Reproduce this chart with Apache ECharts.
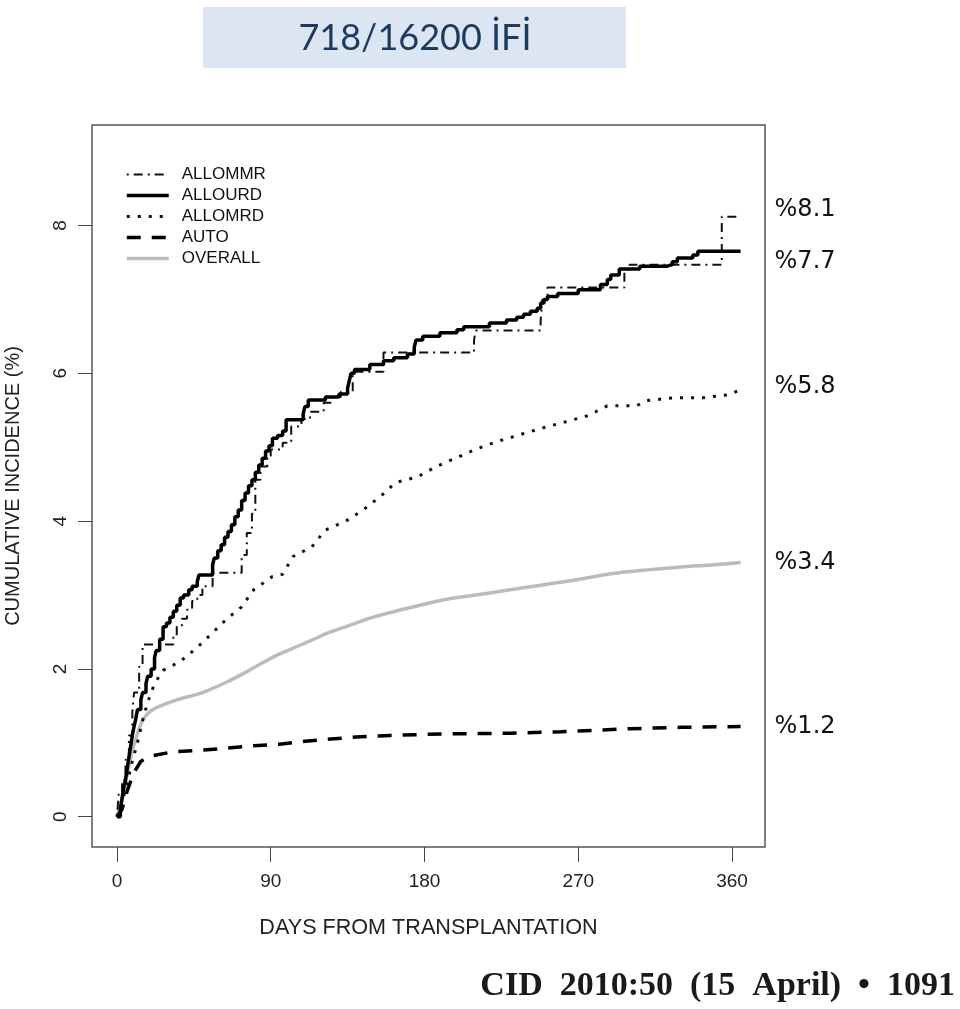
<!DOCTYPE html>
<html>
<head>
<meta charset="utf-8">
<script src="https://cdn.jsdelivr.net/npm/echarts@6/dist/echarts.min.js"></script>
<style>
html,body{margin:0;padding:0;background:#fff;}
#chart{width:960px;height:1009px;}
</style>
</head>
<body>
<div id="chart"></div>
<script>
// ---- data (day, cumulative incidence %) ----
const seriesNames = ['ALLOMMR', 'ALLOURD', 'ALLOMRD', 'AUTO', 'OVERALL'];
const endLabels = ['%8.1', '%7.7', '%5.8', '%3.4', '%1.2'];
const xTicks = [0, 90, 180, 270, 360];
const yTicks = [0, 2, 4, 6, 8];

const allommr = [[0,0],[1,0.3],[3,0.5],[5,0.77],[7,1.1],[9,1.41],[10,1.68],[13,2.03],[15,2.33],[33,2.45],[35,2.57],[38,2.68],[41,2.8],[44,2.92],[47,3.0],[50,3.12],[56,3.3],[73,3.54],[76,3.84],[79,4.1],[81,4.56],[84,4.74],[88,4.88],[90,4.97],[97,5.06],[102,5.28],[108,5.38],[113,5.48],[121,5.6],[126,5.68],[131,5.75],[138,6.02],[156,6.28],[209,6.45],[210,6.58],[248,6.72],[249,7.0],[252,7.16],[297,7.4],[300,7.47],[354,8.12],[365,8.12]];

const allourd = [[0,0],[2,0.1],[3,0.25],[4,0.4],[5,0.5],[6,0.65],[7,0.8],[8,0.95],[9,1.1],[10,1.22],[11,1.32],[12,1.45],[14,1.58],[15,1.68],[17,1.8],[18,1.9],[20,2.0],[22,2.15],[23,2.25],[25,2.4],[27,2.57],[29,2.62],[31,2.7],[33,2.78],[35,2.86],[37,2.96],[39,3.0],[42,3.07],[44,3.12],[47,3.18],[48,3.27],[56,3.41],[57,3.5],[59,3.6],[61,3.68],[63,3.78],[65,3.86],[67,3.95],[69,4.06],[71,4.15],[73,4.28],[75,4.38],[77,4.48],[79,4.56],[81,4.66],[83,4.76],[85,4.85],[87,4.95],[89,5.02],[91,5.12],[94,5.16],[97,5.22],[99,5.37],[109,5.45],[110,5.55],[112,5.64],[122,5.68],[130,5.72],[135,5.8],[136,5.9],[137,6.0],[139,6.05],[148,6.12],[156,6.17],[162,6.21],[170,6.26],[174,6.35],[175,6.45],[179,6.5],[189,6.55],[199,6.59],[203,6.63],[218,6.68],[228,6.72],[234,6.76],[238,6.8],[242,6.84],[246,6.88],[248,6.95],[250,7.0],[252,7.04],[258,7.08],[270,7.13],[283,7.2],[287,7.27],[289,7.33],[294,7.41],[306,7.45],[322,7.47],[325,7.51],[328,7.56],[337,7.6],[340,7.65],[365,7.65]];

const allomrd = [[0,0],[3,0.2],[6,0.45],[9,0.75],[12,1.0],[15,1.3],[18,1.55],[22,1.8],[27,1.98],[37,2.1],[47,2.29],[56,2.49],[64,2.67],[73,2.84],[80,3.07],[91,3.25],[97,3.28],[103,3.52],[114,3.65],[122,3.88],[134,4.0],[144,4.15],[154,4.33],[163,4.52],[176,4.6],[187,4.74],[199,4.86],[211,4.98],[223,5.08],[236,5.17],[249,5.26],[262,5.34],[276,5.43],[287,5.56],[304,5.56],[310,5.63],[326,5.67],[343,5.67],[358,5.71],[365,5.78]];

const auto = [[0,0],[3,0.1],[6,0.35],[10,0.6],[14,0.75],[20,0.82],[33,0.88],[50,0.9],[65,0.93],[80,0.96],[95,0.98],[110,1.02],[125,1.05],[140,1.08],[160,1.1],[190,1.12],[230,1.13],[260,1.15],[280,1.17],[300,1.19],[330,1.21],[365,1.22]];

const overall = [[0,0],[2,0.15],[5,0.45],[8,0.8],[11,1.05],[15,1.3],[21,1.45],[35,1.58],[50,1.68],[65,1.83],[75,1.95],[85,2.08],[95,2.2],[105,2.3],[115,2.4],[125,2.5],[135,2.58],[150,2.7],[170,2.82],[190,2.93],[210,3.0],[230,3.07],[250,3.14],[270,3.21],[290,3.29],[310,3.34],[330,3.38],[350,3.41],[365,3.44]];

const AX_FONT = "'Liberation Sans', Arial, sans-serif";
const chart = echarts.init(document.getElementById('chart'), null, {renderer: 'canvas'});

function endLabel(text, dy) {
  return {
    show: true,
    formatter: text,
    distance: 34,
    offset: [0, dy],
    fontFamily: "'DejaVu Sans', Verdana, sans-serif",
    fontSize: 24,
    color: '#111'
  };
}

const option = {
  backgroundColor: '#fff',
  animation: false,
  graphic: [
    {type: 'rect', shape: {x: 203, y: 7, width: 423, height: 61}, style: {fill: '#dce6f2'}, silent: true},
    {type: 'text', x: 415, y: 38, style: {text: '718/16200 İFİ', font: "36px Lato, 'Open Sans', sans-serif", fill: '#1b3a5e', textAlign: 'center', textVerticalAlign: 'middle'}},
    {type: 'text', x: 955, y: 986, style: {text: 'CID  2010:50  (15  April)  •  1091', font: "bold 34px 'Liberation Serif', 'Times New Roman', serif", fill: '#1a1a1a', textAlign: 'right', textVerticalAlign: 'middle'}}
  ],
  grid: {left: 92, right: 195, top: 125, bottom: 162, outerBoundsMode: 'none', containLabel: false,
         show: true, borderColor: '#555', borderWidth: 1.5, backgroundColor: 'transparent'},
  legend: {
    orient: 'vertical', left: 125, top: 166, padding: 0,
    itemWidth: 42, itemHeight: 14, itemGap: 4,
    data: seriesNames,
    itemStyle: {opacity: 0},
    lineStyle: {width: 'inherit'},
    textStyle: {fontFamily: AX_FONT, fontSize: 17, color: '#111', padding: [0, 0, 0, 8]}
  },
  xAxis: {
    type: 'value', min: -14.6, max: 379.3,
    splitLine: {show: false},
    axisLine: {show: false, onZero: false},
    axisTick: {show: true, customValues: xTicks, length: 15, lineStyle: {color: '#444', width: 1}},
    axisLabel: {customValues: xTicks, margin: 25, fontFamily: AX_FONT, fontSize: 19, color: '#222'},
    name: 'DAYS FROM TRANSPLANTATION', nameLocation: 'middle', nameGap: 70,
    nameTextStyle: {fontFamily: AX_FONT, fontSize: 21.6, color: '#222'}
  },
  yAxis: {
    type: 'value', min: -0.41, max: 9.36,
    splitLine: {show: false},
    axisLine: {show: false, onZero: false},
    axisTick: {show: true, customValues: yTicks, length: 14, lineStyle: {color: '#444', width: 1}},
    axisLabel: {customValues: yTicks, rotate: 90, margin: 22, fontFamily: AX_FONT, fontSize: 19, color: '#222'},
    name: 'CUMULATIVE INCIDENCE (%)', nameLocation: 'middle', nameRotate: 90, nameGap: 69,
    nameTextStyle: {fontFamily: AX_FONT, fontSize: 20, color: '#222'}
  },
  series: [
    {name: 'ALLOMMR', type: 'line', data: allommr, step: 'end', symbol: 'none', z: 3, color: '#111',
     lineStyle: {color: '#111', width: 2, type: [2, 5, 9, 5]}, endLabel: endLabel(endLabels[0], -7)},
    {name: 'ALLOURD', type: 'line', data: allourd, step: 'end', symbol: 'none', z: 4, color: '#000',
     lineStyle: {color: '#000', width: 3.5, type: 'solid'}, endLabel: endLabel(endLabels[1], 10)},
    {name: 'ALLOMRD', type: 'line', data: allomrd, symbol: 'none', z: 3, color: '#111',
     lineStyle: {color: '#111', width: 3, type: [3, 8]}, endLabel: endLabel(endLabels[2], -3)},
    {name: 'AUTO', type: 'line', data: auto, symbol: 'none', z: 3, color: '#000',
     lineStyle: {color: '#000', width: 3.5, type: [14, 11]}, endLabel: endLabel(endLabels[4], 0)},
    {name: 'OVERALL', type: 'line', data: overall, smooth: 0.3, symbol: 'none', z: 2, color: '#bbbbbb',
     lineStyle: {color: '#bbbbbb', width: 3.5, type: 'solid'}, endLabel: endLabel(endLabels[3], 0)}
  ]
};
chart.setOption(option);
</script>
</body>
</html>
